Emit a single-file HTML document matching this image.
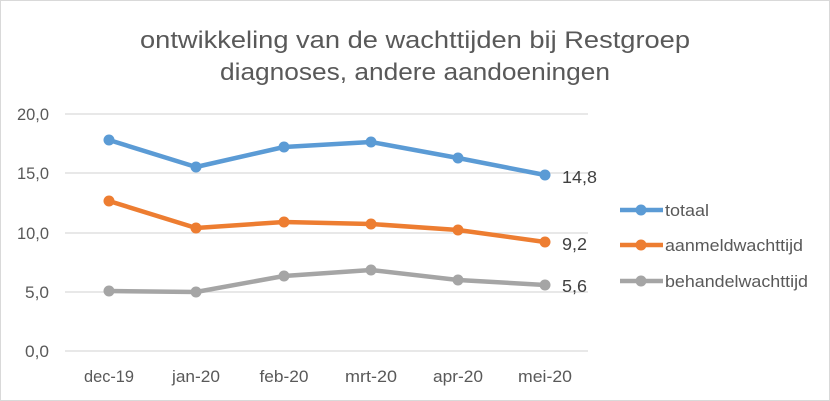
<!DOCTYPE html>
<html><head><meta charset="utf-8"><style>
html,body{margin:0;padding:0;background:#fff;}
svg{display:block;font-family:"Liberation Sans",sans-serif;}
</style></head><body>
<svg width="830" height="401" viewBox="0 0 830 401">
<rect x="0.5" y="0.5" width="829" height="400" fill="#fff" stroke="#d9d9d9"/>
<text x="415" y="48" text-anchor="middle" font-size="24" fill="#595959" textLength="550" lengthAdjust="spacingAndGlyphs">ontwikkeling van de wachttijden bij Restgroep</text>
<text x="415" y="80" text-anchor="middle" font-size="24" fill="#595959" textLength="390" lengthAdjust="spacingAndGlyphs">diagnoses, andere aandoeningen</text>
<g stroke="#d9d9d9" stroke-width="1.3">
<line x1="65" x2="588" y1="114" y2="114"/>
<line x1="65" x2="588" y1="173" y2="173"/>
<line x1="65" x2="588" y1="233" y2="233"/>
<line x1="65" x2="588" y1="292" y2="292"/>
<line x1="65" x2="588" y1="351" y2="351"/>
</g>
<g font-size="16.5" fill="#595959" text-anchor="end">
<text x="49" y="120" textLength="32" lengthAdjust="spacingAndGlyphs">20,0</text>
<text x="49" y="179" textLength="32" lengthAdjust="spacingAndGlyphs">15,0</text>
<text x="49" y="239" textLength="32" lengthAdjust="spacingAndGlyphs">10,0</text>
<text x="49" y="298" textLength="24" lengthAdjust="spacingAndGlyphs">5,0</text>
<text x="49" y="357" textLength="24" lengthAdjust="spacingAndGlyphs">0,0</text>
</g>
<g font-size="16.5" fill="#595959" text-anchor="middle">
<text x="109" y="382" textLength="50" lengthAdjust="spacingAndGlyphs">dec-19</text>
<text x="196" y="382" textLength="48" lengthAdjust="spacingAndGlyphs">jan-20</text>
<text x="284" y="382" textLength="49" lengthAdjust="spacingAndGlyphs">feb-20</text>
<text x="371" y="382" textLength="52" lengthAdjust="spacingAndGlyphs">mrt-20</text>
<text x="458" y="382" textLength="50" lengthAdjust="spacingAndGlyphs">apr-20</text>
<text x="545" y="382" textLength="54" lengthAdjust="spacingAndGlyphs">mei-20</text>
</g>
<g fill="none" stroke-width="4.5" stroke-linejoin="round">
<polyline stroke="#5B9BD5" points="109,140 196,167 284,147 371,142 458,158 545,175"/>
<polyline stroke="#ED7D31" points="109,201 196,228 284,222 371,224 458,230 545,242"/>
<polyline stroke="#A5A5A5" points="109,291 196,292 284,276 371,270 458,280 545,285"/>
</g>
<g fill="#5B9BD5"><circle cx="109" cy="140" r="5.5"/><circle cx="196" cy="167" r="5.5"/><circle cx="284" cy="147" r="5.5"/><circle cx="371" cy="142" r="5.5"/><circle cx="458" cy="158" r="5.5"/><circle cx="545" cy="175" r="5.5"/></g>
<g fill="#ED7D31"><circle cx="109" cy="201" r="5.5"/><circle cx="196" cy="228" r="5.5"/><circle cx="284" cy="222" r="5.5"/><circle cx="371" cy="224" r="5.5"/><circle cx="458" cy="230" r="5.5"/><circle cx="545" cy="242" r="5.5"/></g>
<g fill="#A5A5A5"><circle cx="109" cy="291" r="5.5"/><circle cx="196" cy="292" r="5.5"/><circle cx="284" cy="276" r="5.5"/><circle cx="371" cy="270" r="5.5"/><circle cx="458" cy="280" r="5.5"/><circle cx="545" cy="285" r="5.5"/></g>
<g font-size="17.5" fill="#404040">
<text x="562" y="183" textLength="35" lengthAdjust="spacingAndGlyphs">14,8</text>
<text x="562" y="250" textLength="25" lengthAdjust="spacingAndGlyphs">9,2</text>
<text x="562" y="292" textLength="25" lengthAdjust="spacingAndGlyphs">5,6</text>
</g>
<g stroke-width="4.5">
<line x1="620" x2="663" y1="210" y2="210" stroke="#5B9BD5"/>
<line x1="620" x2="663" y1="245" y2="245" stroke="#ED7D31"/>
<line x1="620" x2="663" y1="281" y2="281" stroke="#A5A5A5"/>
</g>
<circle cx="641" cy="210" r="5.5" fill="#5B9BD5"/>
<circle cx="641" cy="245" r="5.5" fill="#ED7D31"/>
<circle cx="641" cy="281" r="5.5" fill="#A5A5A5"/>
<g font-size="16.5" fill="#595959">
<text x="665" y="216" textLength="44" lengthAdjust="spacingAndGlyphs">totaal</text>
<text x="665" y="251" textLength="138" lengthAdjust="spacingAndGlyphs">aanmeldwachttijd</text>
<text x="665" y="287" textLength="143" lengthAdjust="spacingAndGlyphs">behandelwachttijd</text>
</g>
</svg>
</body></html>
